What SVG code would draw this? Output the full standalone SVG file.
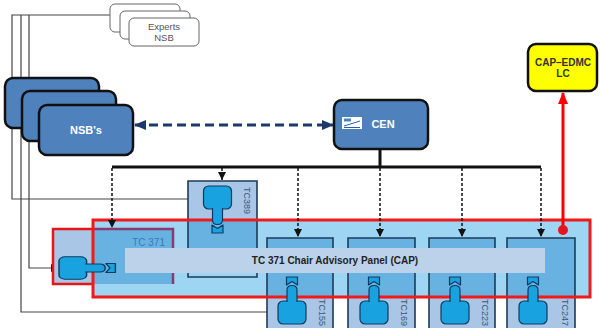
<svg xmlns="http://www.w3.org/2000/svg" width="600" height="328" viewBox="0 0 600 328">
<style>
.t{font-family:"Liberation Sans",Arial,sans-serif}
.blue{fill:#4f81bd;stroke:#111;stroke-width:2.5}
.exp{fill:#fff;stroke:#666;stroke-width:1}
.gl{fill:none;stroke:#444;stroke-width:1.2}
.dl{fill:none;stroke:#111;stroke-width:1.5;stroke-dasharray:3 2}
.edge{fill:none;stroke:#1d3b58;stroke-width:1.6}
.lt{fill:#a9c6e6}
.md{fill:#68b2e2}
.ico{fill:#18a2e0;stroke:#123a5e;stroke-width:1.2;stroke-linejoin:round}
.lbl{font-size:9px;fill:#3d5875}
</style>
<defs>
<marker id="ah" markerUnits="userSpaceOnUse" markerWidth="8" markerHeight="8" refX="8" refY="4" orient="auto"><path d="M0,0L8,4L0,8z" fill="#111"/></marker>
<marker id="nav" markerUnits="userSpaceOnUse" markerWidth="12" markerHeight="10" refX="11" refY="5" orient="auto-start-reverse"><path d="M0,0L12,5L0,10z" fill="#1b3a6b"/></marker>
<marker id="red" markerUnits="userSpaceOnUse" markerWidth="12" markerHeight="10" refX="11" refY="5" orient="auto"><path d="M0,0L12,5L0,10z" fill="#ff0000"/></marker>
<g id="icon">
<rect class="ico" x="-14" y="0" width="28" height="23" rx="5"/>
<path class="ico" d="M-5,22L-5,34Q-5,38.5 0,38.5Q5,38.5 5,34L5,22"/>
<path class="ico" d="M-5.5,39L0,42.5L5.5,39L5.5,47L-5.5,47Z"/>
</g>
</defs>

<g id="connectors-left">
<path class="gl" d="M110,15H12V199H203" marker-end="url(#ah)"/>
<path class="gl" d="M21,15V312H278" marker-end="url(#ah)"/>
<path class="gl" d="M29,15V268H59" marker-end="url(#ah)"/>
</g>

<g id="experts">
<rect class="exp" x="110" y="4" width="70" height="28" rx="5"/>
<rect class="exp" x="120" y="11" width="70" height="28" rx="5"/>
<rect class="exp" x="129" y="18" width="70" height="28" rx="5"/>
<text class="t" x="164" y="30" font-size="9.5" fill="#555" text-anchor="middle">Experts</text>
<text class="t" x="164" y="41" font-size="9.5" fill="#555" text-anchor="middle">NSB</text>
</g>

<g id="nsbs">
<rect class="blue" x="5" y="78" width="94" height="50" rx="8"/>
<rect class="blue" x="22" y="91" width="94" height="50" rx="8"/>
<rect class="blue" x="39" y="105" width="94" height="50" rx="8"/>
<text class="t" x="86" y="134" font-size="11" font-weight="bold" fill="#fff" text-anchor="middle">NSB's</text>
</g>

<g id="cen">
<rect class="blue" x="334" y="100" width="94" height="49" rx="8"/>
<rect x="342" y="117" width="20" height="12" fill="#fff"/>
<rect x="344" y="118.5" width="7" height="3" fill="#4f81bd"/>
<path d="M344,126L360,121M344,127.5H360" stroke="#2c5ea8" stroke-width="1"/>
<text class="t" x="383" y="128" font-size="11" font-weight="bold" fill="#fff" text-anchor="middle">CEN</text>
</g>

<g id="cap-edmc">
<rect x="528" y="44" width="69" height="47" rx="8" fill="#ffff00" stroke="#111" stroke-width="2.5"/>
<text class="t" x="563" y="66" font-size="10" font-weight="bold" fill="#333" text-anchor="middle">CAP–EDMC</text>
<text class="t" x="563" y="77" font-size="10" font-weight="bold" fill="#333" text-anchor="middle">LC</text>
</g>

<g id="cap-panel">
<rect x="93" y="220" width="497" height="77" fill="#9dd5f2"/>
</g>

<g id="tc371">
<rect class="lt" x="53" y="229" width="40" height="55"/>
<rect class="md" x="93" y="229" width="80" height="55"/>
<path d="M93,229H173V284" fill="none" stroke="#8c3a6e" stroke-width="2.5"/>
<path d="M93,229H53V284H93" fill="none" stroke="#e8141b" stroke-width="2.5"/>
<text class="t" x="165" y="246" font-size="10" fill="#3a78b8" text-anchor="end">TC 371</text>
</g>

<g id="tc389">
<rect class="lt" x="188" y="181" width="69" height="39"/>
<rect class="md" x="188" y="220" width="69" height="30"/>
<path class="edge" d="M188,250V181H257V250M188,273V277H257V273"/>
<text class="t lbl" transform="translate(244,187) rotate(90)">TC389</text>
</g>

<g id="tc155">
<rect class="md" x="267" y="238" width="66" height="59"/>
<rect class="lt" x="267" y="297" width="66" height="31"/>
<path class="edge" d="M267,330V238H333V330"/>
<text class="t lbl" transform="translate(319,299) rotate(90)">TC155</text>
</g>
<g id="tc169">
<rect class="md" x="348" y="238" width="67" height="59"/>
<rect class="lt" x="348" y="297" width="67" height="31"/>
<path class="edge" d="M348,330V238H415V330"/>
<text class="t lbl" transform="translate(401,299) rotate(90)">TC169</text>
</g>
<g id="tc223">
<rect class="md" x="429" y="238" width="66" height="59"/>
<rect class="lt" x="429" y="297" width="66" height="31"/>
<path class="edge" d="M429,330V238H495V330"/>
<text class="t lbl" transform="translate(482,299) rotate(90)">TC223</text>
</g>
<g id="tc247">
<rect class="md" x="507" y="238" width="68" height="59"/>
<rect class="lt" x="507" y="297" width="68" height="31"/>
<path class="edge" d="M507,330V238H575V330"/>
<text class="t lbl" transform="translate(562,299) rotate(90)">TC247</text>
</g>

<g id="cap-border">
<rect x="93" y="220" width="497" height="77" fill="none" stroke="#f01a1a" stroke-width="3"/>
</g>

<g id="connectors">
<path d="M135,125H333" fill="none" stroke="#1b3a6b" stroke-width="3" stroke-dasharray="9 5" marker-start="url(#nav)" marker-end="url(#nav)"/>
<path d="M380,149V167M112,167H541" fill="none" stroke="#111" stroke-width="3"/>
<path class="dl" d="M112,168V228" marker-end="url(#ah)"/>
<path class="dl" d="M222,168V180" marker-end="url(#ah)"/>
<path class="dl" d="M298,168V237" marker-end="url(#ah)"/>
<path class="dl" d="M380,168V237" marker-end="url(#ah)"/>
<path class="dl" d="M462,168V237" marker-end="url(#ah)"/>
<path class="dl" d="M541,168V237" marker-end="url(#ah)"/>
</g>

<g id="cap-banner">
<rect x="125" y="248" width="420" height="25" fill="#bcd2ea"/>
<text class="t" x="335" y="264" font-size="10" font-weight="bold" fill="#222" text-anchor="middle">TC 371 Chair Advisory Panel (CAP)</text>
</g>

<g id="icons">
<use href="#icon" transform="translate(217.5,186)"/>
<use href="#icon" transform="translate(292,324) scale(1,-1)"/>
<use href="#icon" transform="translate(374,324) scale(1,-1)"/>
<use href="#icon" transform="translate(455,324) scale(1,-1)"/>
<use href="#icon" transform="translate(533,324) scale(1,-1)"/>
<use href="#icon" transform="translate(59,268) rotate(-90) scale(0.8,1.2)"/>
</g>

<g id="red-link">
<path d="M563,230V93" fill="none" stroke="#ff0000" stroke-width="3" marker-end="url(#red)"/>
<circle cx="563" cy="230" r="5" fill="#e8141b"/>
</g>
</svg>
